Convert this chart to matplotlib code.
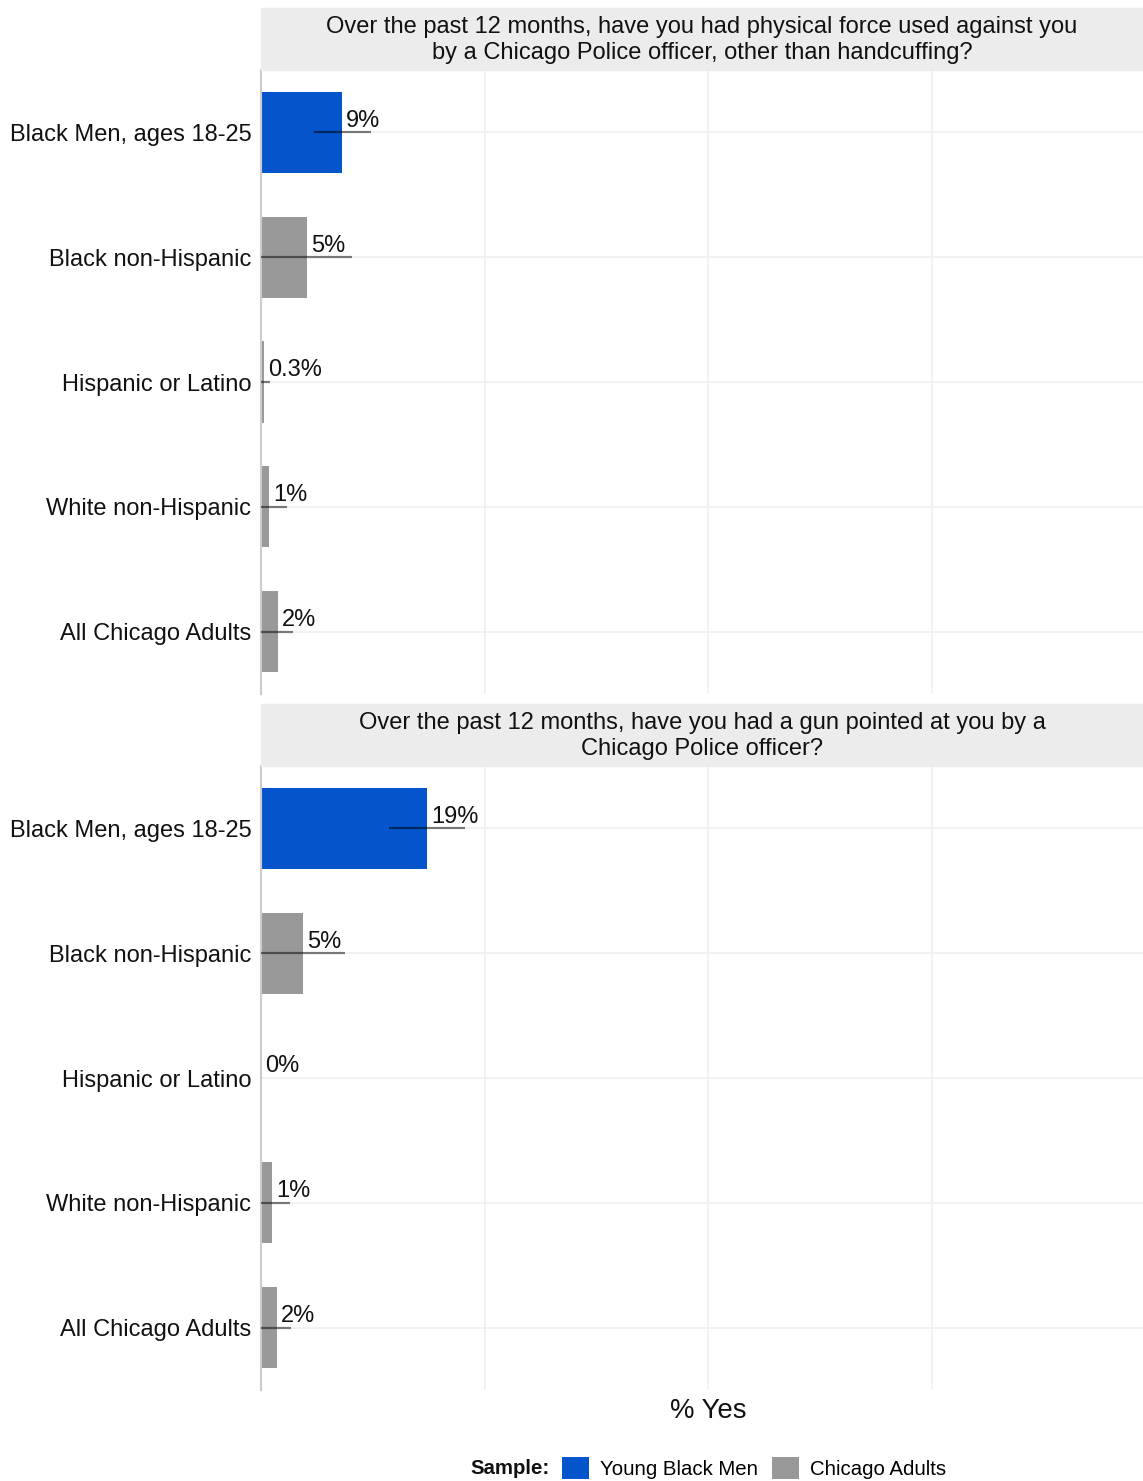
import matplotlib
matplotlib.use("Agg")
import matplotlib.pyplot as plt
from matplotlib.patches import Patch, Rectangle

plt.rcParams['font.family'] = ['Liberation Sans', 'DejaVu Sans']

# data
groups = ["Black Men, ages 18-25", "Black non-Hispanic", "Hispanic or Latino",
          "White non-Hispanic", "All Chicago Adults"]
sample = ["Young Black Men", "Chicago Adults", "Chicago Adults", "Chicago Adults", "Chicago Adults"]

q1_title = "Over the past 12 months, have you had physical force used against you\nby a Chicago Police officer, other than handcuffing?"
q1_pct = [9.05, 5.1, 0.3, 0.9, 1.9]
q1_lo = [5.9, 0.0, 0.0, 0.0, 0.0]
q1_hi = [12.3, 10.2, 1.0, 2.9, 3.6]
q1_lab = ["9%", "5%", "0.3%", "1%", "2%"]

q2_title = "Over the past 12 months, have you had a gun pointed at you by a\nChicago Police officer?"
q2_pct = [18.6, 4.7, 0.0, 1.2, 1.8]
q2_lo = [14.3, 0.0, None, 0.0, 0.0]
q2_hi = [22.8, 9.4, None, 3.2, 3.4]
q2_lab = ["19%", "5%", "0%", "1%", "2%"]

colors = {"Young Black Men": "#0455cc", "Chicago Adults": "#999999"}

W, H = 1143, 1481
fig = plt.figure(figsize=(W / 100, H / 100), dpi=100)

def panel(top_px, strip_top_px, title, pct, lo, hi, labels):
    bottom_px = top_px + 624
    ax = fig.add_axes([261 / W, 1 - bottom_px / H, 1 - 261 / W, 624 / H])
    y = list(range(len(groups)))
    ax.barh(y, pct, height=0.65, color=[colors[s] for s in sample], zorder=2)
    for i in y:
        if lo[i] is not None:
            ax.hlines(i, lo[i], hi[i], color="black", alpha=0.5, lw=1.6, zorder=3)
        ax.annotate(labels[i], (pct[i], i), xytext=(3, 0.5), textcoords="offset points",
                    ha="left", va="bottom", fontsize=17, color="#111111", zorder=4)
    ax.set_xlim(0, 98.6)
    ax.set_ylim(len(groups) - 0.5, -0.5)
    ax.set_yticks(y)
    ax.set_yticklabels(groups, fontsize=17, color="#111111")
    ax.set_xticks([25, 50, 75])
    ax.tick_params(axis="x", length=0, labelbottom=False)
    ax.tick_params(axis="y", length=0, pad=7)
    ax.grid(True, color="#f0f0f0", lw=1.2, zorder=0)
    ax.set_axisbelow(True)
    for s in ["top", "right", "bottom"]:
        ax.spines[s].set_visible(False)
    ax.spines["left"].set_color("#cccccc")
    ax.spines["left"].set_linewidth(1.5)
    # facet strip
    sh = top_px - strip_top_px
    fig.patches.append(Rectangle((261 / W, 1 - top_px / H), 1 - 261 / W, sh / H,
                                 transform=fig.transFigure, color="#ececec", zorder=0))
    fig.text((261 + W) / 2 / W, 1 - (strip_top_px + sh / 2 + 1) / H, title, ha="center",
             va="center", fontsize=17, color="#111111", linespacing=1.25)
    return ax

ax1 = panel(70, 8, q1_title, q1_pct, q1_lo, q1_hi, q1_lab)
ax2 = panel(766, 704, q2_title, q2_pct, q2_lo, q2_hi, q2_lab)

fig.text(708 / W, 1 - 1411 / H, "% Yes", ha="center", va="center", fontsize=19.8, color="#111111")

fig.text(550 / W, 1 - 1468 / H, "Sample:", ha="right", va="center", fontsize=14.7,
         fontweight="bold", color="#111111")
handles = [Patch(facecolor=colors[k], edgecolor="none", label=k) for k in ["Young Black Men", "Chicago Adults"]]
fig.legend(handles=handles, loc="center left", bbox_to_anchor=(562 / W, 1 - 1468 / H),
           ncol=2, frameon=False, fontsize=14.7, handlelength=1.3, handleheight=1.3,
           handletextpad=0.55, columnspacing=0.7, borderpad=0, borderaxespad=0)

fig.savefig("out.png", dpi=100, facecolor="white")
